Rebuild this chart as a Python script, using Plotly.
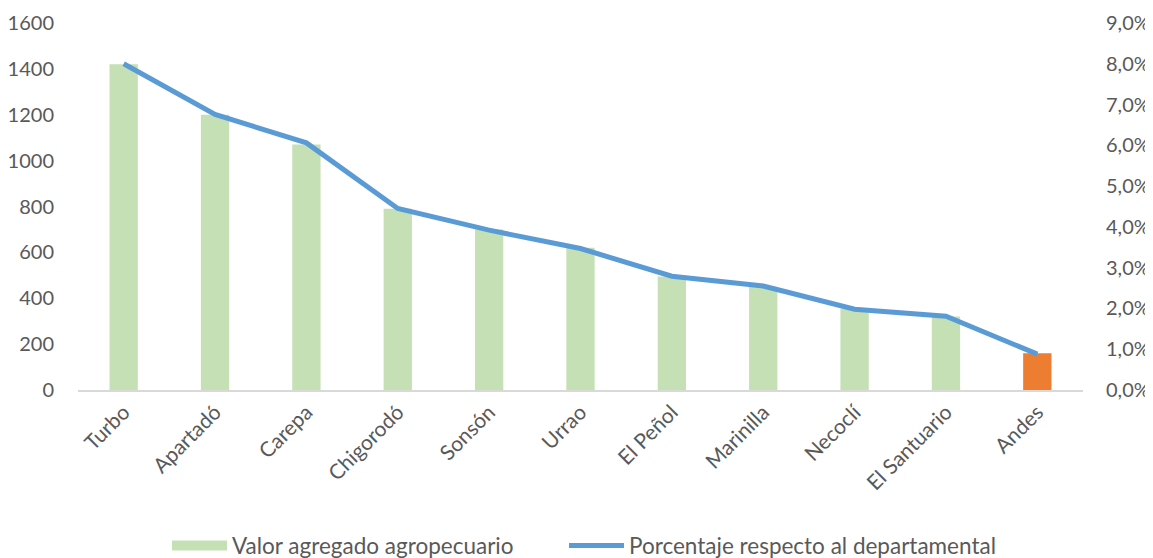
import plotly.graph_objects as go

categories = ["Turbo", "Apartadó", "Carepa", "Chigorodó", "Sonsón", "Urrao",
              "El Peñol", "Marinilla", "Necoclí", "El Santuario", "Andes"]
valor_agregado = [1420, 1200, 1070, 790, 700, 620, 495, 450, 355, 320, 160]
porcentaje = [0.080, 0.0676, 0.0606, 0.0445, 0.0392, 0.0347, 0.0279, 0.0255, 0.0198, 0.0181, 0.0088]
bar_colors = ["#C5E0B4"] * 10 + ["#ED7D31"]

font_family = "Lato, 'Open Sans', sans-serif"
text_color = "#595959"
bar_name = "Valor agregado agropecuario"
line_name = "Porcentaje respecto al departamental"

fig = go.Figure()
fig.add_trace(go.Bar(
    x=categories, y=valor_agregado, name=bar_name,
    marker=dict(color=bar_colors, line=dict(width=0)), width=0.31,
    yaxis="y", showlegend=False))
# legend-only entry for the bars (wide rectangle swatch like the original)
fig.add_trace(go.Scatter(
    x=[None], y=[None], name=bar_name, mode="lines",
    line=dict(color="#C5E0B4", width=14), yaxis="y", showlegend=True,
    hoverinfo="skip", legend="legend"))
fig.add_trace(go.Scatter(
    x=categories, y=porcentaje, name=line_name,
    mode="lines", line=dict(color="#5B9BD5", width=5), yaxis="y2",
    legend="legend2"))

legend_common = dict(orientation="h", yanchor="middle", y=-0.425,
                     font=dict(size=22.5, color=text_color), itemwidth=55,
                     bgcolor="rgba(0,0,0,0)")

fig.update_layout(
    width=1153, height=558,
    margin=dict(l=70, r=78, t=15, b=176, autoexpand=False),
    paper_bgcolor="white", plot_bgcolor="white",
    separators=",.",
    font=dict(family=font_family, size=21, color=text_color),
    showlegend=True,
    legend=dict(x=0.0886, xanchor="left", **legend_common),
    legend2=dict(x=0.4836, xanchor="left", **legend_common),
    xaxis=dict(tickangle=-45, showline=True, linecolor="#D9D9D9", linewidth=1.5,
               ticks="", showgrid=False, automargin=False,
               tickfont=dict(size=21, color=text_color)),
    yaxis=dict(range=[0, 1600], dtick=200, showgrid=False, zeroline=False,
               ticks="", showline=False, automargin=False,
               tickfont=dict(size=20, color=text_color),
               ticklabelstandoff=23),
    yaxis2=dict(range=[0, 0.09], dtick=0.01, tickformat=".1%", overlaying="y",
                side="right", showgrid=False, zeroline=False, ticks="",
                showline=False, automargin=False,
                tickfont=dict(size=20, color=text_color),
                ticklabelstandoff=22),
    bargap=0.69,
)

fig.write_html("out.html")
